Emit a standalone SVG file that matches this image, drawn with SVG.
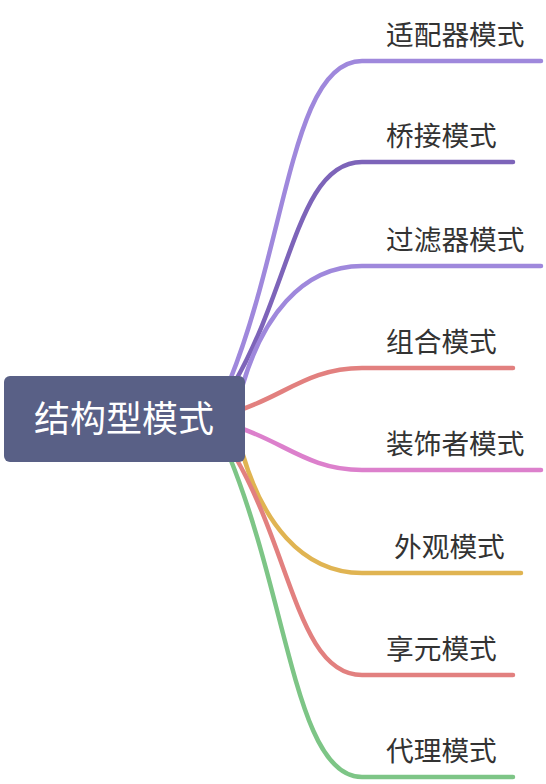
<svg xmlns="http://www.w3.org/2000/svg" width="546" height="784" viewBox="0 0 546 784">
<style>
.ln{fill:none;stroke-width:4.5;stroke-linecap:round;stroke-linejoin:round}
.leaf{font-family:"Noto Sans CJK SC","Noto Sans",sans-serif;font-size:27.7px;fill:#333333}
.root{font-family:"Noto Sans CJK SC","Noto Sans",sans-serif;font-size:36px;fill:#ffffff}
</style>
<rect width="546" height="784" fill="#ffffff"/>
<g id="connectors">
<path class="ln" stroke="#9f88dc" d="M230,380 C287,239 292,61 362,61 L541,61"/>
<path class="ln" stroke="#7d64b9" d="M236,380 C292,281 299,162 362,162 L513,162"/>
<path class="ln" stroke="#9f88dc" d="M243,384 C262,320 300,266 362,266 L541,266"/>
<path class="ln" stroke="#e2807f" d="M240,410 C285,395 310,368 362,368 L513,368"/>
<path class="ln" stroke="#dc80cc" d="M240,428 C285,443 310,470 362,470 L541,470"/>
<path class="ln" stroke="#e0b452" d="M243,455 C262,519 300,573 362,573 L521,573"/>
<path class="ln" stroke="#e2807f" d="M236,458 C292,556 299,675 362,675 L513,675"/>
<path class="ln" stroke="#7dc586" d="M230,458 C289,604 296,777 362,777 L513,777"/>
</g>
<g id="root">
<rect x="4" y="376" width="241" height="86" rx="6" fill="#596086"/>
<text class="root" x="124" y="432" text-anchor="middle">结构型模式</text>
</g>
<g id="n1"><text class="leaf" x="386" y="45">适配器模式</text></g>
<g id="n2"><text class="leaf" x="386" y="146">桥接模式</text></g>
<g id="n3"><text class="leaf" x="386" y="250">过滤器模式</text></g>
<g id="n4"><text class="leaf" x="386" y="352">组合模式</text></g>
<g id="n5"><text class="leaf" x="386" y="454">装饰者模式</text></g>
<g id="n6"><text class="leaf" x="394" y="557">外观模式</text></g>
<g id="n7"><text class="leaf" x="386" y="659">享元模式</text></g>
<g id="n8"><text class="leaf" x="386" y="761">代理模式</text></g>
</svg>
